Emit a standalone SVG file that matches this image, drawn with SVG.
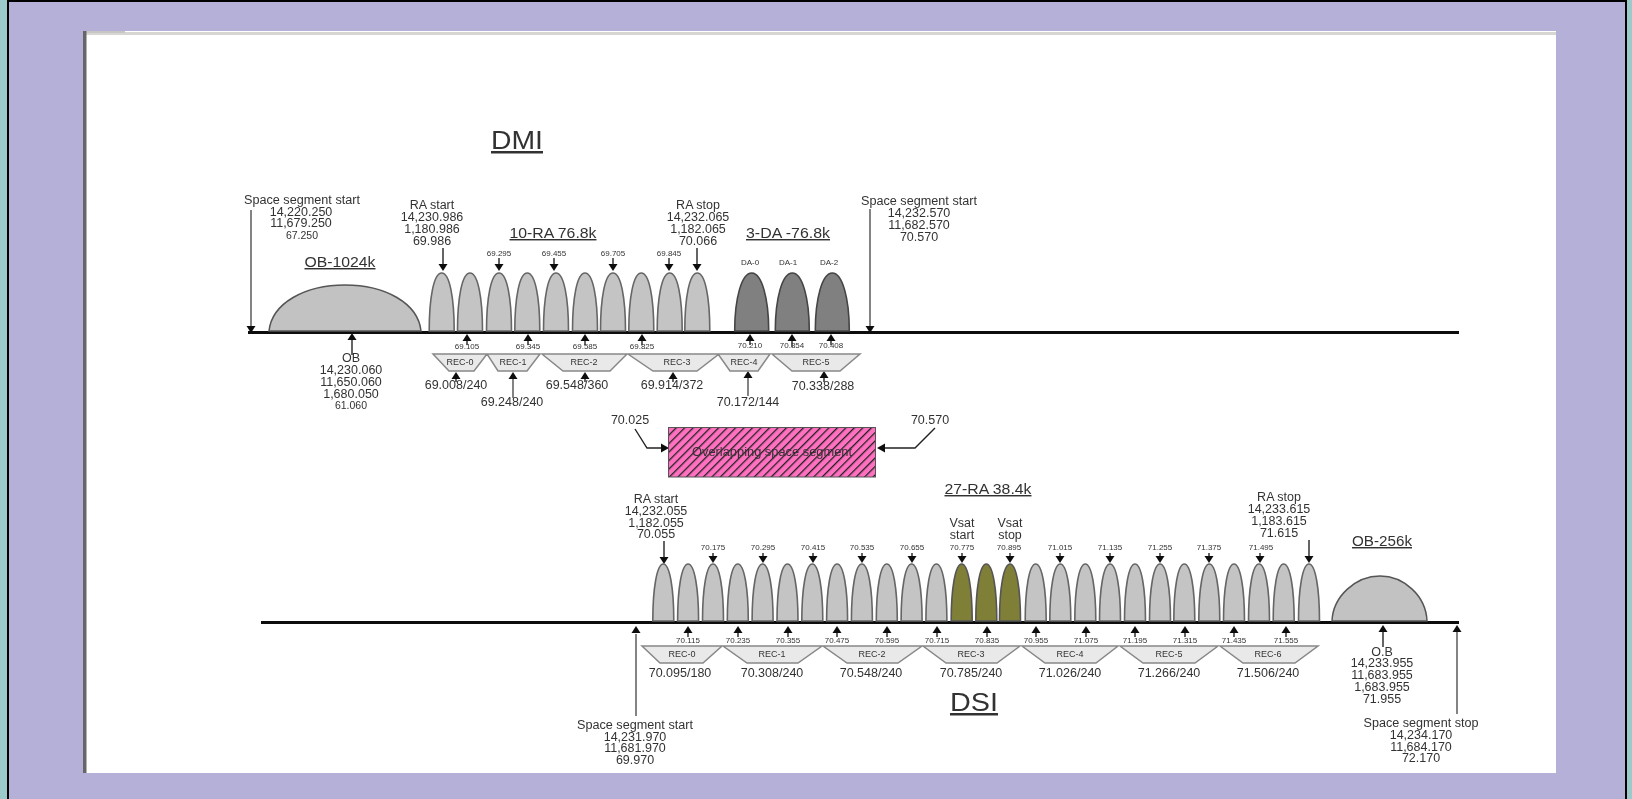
<svg xmlns="http://www.w3.org/2000/svg" width="1632" height="799" viewBox="0 0 1632 799">
<style>
text{font-family:"Liberation Sans",Arial,sans-serif;fill:#333;text-anchor:middle;font-size:12.5px}
.s{font-size:8px}
.r{font-size:9px}
.h{font-size:14.5px;text-decoration:underline}
.t{font-size:25px;text-decoration:underline}
.sh{stroke:#222;stroke-width:1.4;fill:none}
.g{stroke:#777;stroke-width:1.8;fill:none}
.ax{stroke:#111;stroke-width:3;fill:none}
.rec{fill:#e9e9e9;stroke:#888;stroke-width:1.5}
.dome{fill:#c2c2c2;stroke:#555;stroke-width:1.5}
.lobe{stroke:#666;stroke-width:1.6}
.ra{fill:#c4c4c4}.da{fill:#808080;stroke:#444}.v{fill:#7f7f38;stroke:#555}
</style>
<defs>
<filter id="soft" x="0" y="0" width="100%" height="100%"><feGaussianBlur stdDeviation="0.7"/></filter>
<pattern id="hatch" width="6" height="6" patternUnits="userSpaceOnUse" patternTransform="rotate(45)"><rect width="6" height="6" fill="#ff70c0"/><rect width="1.3" height="6" fill="#222"/></pattern>
<path id="ad" d="M-4.500,-7H4.500L0,0Z" fill="#111"/>
<path id="au" d="M-4.500,7H4.500L0,0Z" fill="#111"/>
<path id="l1" d="M-12.500,58C-12.500,25-8,0 0,0C8,0 12.500,25 12.500,58Z"/>
<path id="l2" d="M-10.500,57C-10.500,25-6.500,0 0,0C6.500,0 10.500,25 10.500,57Z"/>
<path id="l3" d="M-17,58C-17,25-10,0 0,0C10,0 17,25 17,58Z"/>
</defs>
<rect width="1632" height="799" fill="#b4b0d8"/>
<rect width="7" height="799" fill="#9ccaca"/>
<rect x="1627" width="5" height="799" fill="#9ccaca"/>
<rect x="7" width="2" height="799" fill="#000"/>
<rect x="1625" width="2" height="799" fill="#000"/>
<rect x="7" width="1620" height="2" fill="#000"/>
<g id="page">
<rect x="83" y="31" width="1473" height="742" fill="#fff"/>
<rect x="83" y="32" width="1473" height="3" fill="#d8d6d2"/>
<rect x="83" y="31" width="42" height="2" fill="#c8c6c4"/>
<rect x="83" y="31" width="3.500" height="742" fill="#666"/>
</g>
<g filter="url(#soft)">
<g id="connectors">
<path class="ax" d="M248,332.500H1459M261,622.500H1459"/>
<path class="g" d="M251,210V326M870,209V326M513,378V398M748,377V396M636,634V716M1457,632V714"/>
<path class="sh" d="M443,248V264M697,248V264M499,258V264M554,258V264M613,258V264M669,258V264M352,339V355M467,339V345M528,339V345M585,339V345M642,339V345M750,340V345M792,340V347M831,340V345M456,379V382M585,379V382M673,379V382M824,377V382"/>
<path class="sh" d="M635,429L647,448H662M935,428L915,448H884"/>
<path class="sh" d="M664,541V557M1309,540V556M713,553V557M763,553V557M813,553V557M862,553V557M912,553V557M962,553V557M1010,553V557M1060,553V557M1110,553V557M1160,553V557M1209,553V557M1260,553V557M688,632V637M738,632V637M788,632V637M837,632V637M887,632V637M937,632V637M987,632V637M1036,632V637M1086,632V637M1135,632V637M1185,632V637M1234,632V637M1286,632V637M1383,632V647"/>
<use href="#ad" x="251" y="333"/><use href="#ad" x="870" y="333"/>
<use href="#ad" x="443" y="271"/><use href="#ad" x="697" y="271"/><use href="#ad" x="499" y="271"/><use href="#ad" x="554" y="271"/><use href="#ad" x="613" y="271"/><use href="#ad" x="669" y="271"/>
<use href="#au" x="352" y="333"/><use href="#au" x="467" y="334"/><use href="#au" x="528" y="334"/><use href="#au" x="585" y="334"/><use href="#au" x="642" y="334"/><use href="#au" x="750" y="334"/><use href="#au" x="792" y="334"/><use href="#au" x="831" y="334"/>
<use href="#au" x="456" y="372"/><use href="#au" x="513" y="372"/><use href="#au" x="585" y="372"/><use href="#au" x="673" y="372"/><use href="#au" x="748" y="371"/><use href="#au" x="824" y="371"/>
<path d="M669,448L661,443.500V452.500ZM877,448L885,443.500V452.500Z" fill="#111"/>
<use href="#ad" x="664" y="564"/><use href="#ad" x="1309" y="563"/><use href="#ad" x="713" y="563"/><use href="#ad" x="763" y="563"/><use href="#ad" x="813" y="563"/><use href="#ad" x="862" y="563"/><use href="#ad" x="912" y="563"/><use href="#ad" x="962" y="563"/><use href="#ad" x="1010" y="563"/><use href="#ad" x="1060" y="563"/><use href="#ad" x="1110" y="563"/><use href="#ad" x="1160" y="563"/><use href="#ad" x="1209" y="563"/><use href="#ad" x="1260" y="563"/>
<use href="#au" x="636" y="626"/><use href="#au" x="1457" y="625"/><use href="#au" x="1383" y="625"/>
<use href="#au" x="688" y="626"/><use href="#au" x="738" y="626"/><use href="#au" x="788" y="626"/><use href="#au" x="837" y="626"/><use href="#au" x="887" y="626"/><use href="#au" x="937" y="626"/><use href="#au" x="987" y="626"/><use href="#au" x="1036" y="626"/><use href="#au" x="1086" y="626"/><use href="#au" x="1135" y="626"/><use href="#au" x="1185" y="626"/><use href="#au" x="1234" y="626"/><use href="#au" x="1286" y="626"/>
</g>
<g id="dmi-title"><text class="t" x="517" y="149" textLength="52" lengthAdjust="spacingAndGlyphs">DMI</text></g>
<g id="dmi-ob"><path class="dome" d="M269,331C272,303 305,285 345,285C385,285 418,303 421,331Z"/><text class="h" x="340" y="267" textLength="71" lengthAdjust="spacingAndGlyphs">OB-1024k</text></g>
<g id="dmi-ra" class="lobe ra">
<use href="#l1" x="441.700" y="273"/><use href="#l1" x="470" y="273"/><use href="#l1" x="499" y="273"/><use href="#l1" x="527.300" y="273"/><use href="#l1" x="556" y="273"/><use href="#l1" x="585" y="273"/><use href="#l1" x="613" y="273"/><use href="#l1" x="641.300" y="273"/><use href="#l1" x="669.700" y="273"/><use href="#l1" x="697.300" y="273"/>
</g>
<g id="dmi-da" class="lobe da"><use href="#l3" x="751.700" y="273"/><use href="#l3" x="792.300" y="273"/><use href="#l3" x="832.300" y="273"/></g>
<g id="dmi-recs">
<path class="rec" d="M433,354H487L474,371H449ZM487,354H540L527,371H498ZM542,354H627L610,371H563ZM628,354H719L697,371H653ZM718,354H770L758,371H730ZM772,354H860L840,371H792Z"/>
<text class="r" x="460" y="365">REC-0</text><text class="r" x="513" y="365">REC-1</text><text class="r" x="584" y="365">REC-2</text><text class="r" x="677" y="365">REC-3</text><text class="r" x="744" y="365">REC-4</text><text class="r" x="816" y="365">REC-5</text>
</g>
<g id="dmi-labels">
<text x="302" y="204" textLength="116" lengthAdjust="spacingAndGlyphs">Space segment start</text><text x="301" y="216">14,220.250</text><text x="301" y="227">11,679.250</text><text x="302" y="239" style="font-size:10.500px">67.250</text>
<text x="432" y="209">RA start</text><text x="432" y="221">14,230.986</text><text x="432" y="233">1,180.986</text><text x="432" y="245">69.986</text>
<text class="h" x="553" y="238" textLength="87" lengthAdjust="spacingAndGlyphs">10-RA 76.8k</text>
<text x="698" y="209">RA stop</text><text x="698" y="221">14,232.065</text><text x="698" y="233">1,182.065</text><text x="698" y="245">70.066</text>
<text class="h" x="788" y="238" textLength="84" lengthAdjust="spacingAndGlyphs">3-DA -76.8k</text>
<text x="919" y="205" textLength="116" lengthAdjust="spacingAndGlyphs">Space segment start</text><text x="919" y="217">14,232.570</text><text x="919" y="229">11,682.570</text><text x="919" y="241">70.570</text>
<text class="s" x="499" y="256">69.295</text><text class="s" x="554" y="256">69.455</text><text class="s" x="613" y="256">69.705</text><text class="s" x="669" y="256">69.845</text>
<text class="s" x="750" y="265">DA-0</text><text class="s" x="788" y="265">DA-1</text><text class="s" x="829" y="265">DA-2</text>
<text class="s" x="467" y="349">69.105</text><text class="s" x="528" y="349">69.345</text><text class="s" x="585" y="349">69.585</text><text class="s" x="642" y="349">69.825</text><text class="s" x="750" y="348">70.210</text><text class="s" x="792" y="348">70.354</text><text class="s" x="831" y="348">70.408</text>
<text x="351" y="362">OB</text><text x="351" y="374">14,230.060</text><text x="351" y="386">11,650.060</text><text x="351" y="398">1,680.050</text><text x="351" y="409" style="font-size:10.500px">61.060</text>
<text x="456" y="389">69.008/240</text><text x="512" y="406">69.248/240</text><text x="577" y="389">69.548/360</text><text x="672" y="389">69.914/372</text><text x="748" y="406">70.172/144</text><text x="823" y="390">70.338/288</text>
</g>
<g id="overlap">
<rect x="668.500" y="427.500" width="207" height="49.500" fill="url(#hatch)" stroke="#555"/>
<text x="772" y="456" textLength="160" lengthAdjust="spacingAndGlyphs">Overlapping space segment</text>
<text x="630" y="424">70.025</text><text x="930" y="424">70.570</text>
</g>
<g id="dsi-ra" class="lobe ra">
<use href="#l2" x="663.300" y="564"/><use href="#l2" x="688.100" y="564"/><use href="#l2" x="713" y="564"/><use href="#l2" x="737.800" y="564"/><use href="#l2" x="762.600" y="564"/><use href="#l2" x="787.500" y="564"/><use href="#l2" x="812.300" y="564"/><use href="#l2" x="837.100" y="564"/><use href="#l2" x="861.900" y="564"/><use href="#l2" x="886.800" y="564"/><use href="#l2" x="911.600" y="564"/><use href="#l2" x="936.400" y="564"/>
<use href="#l2" x="1035.700" y="564"/><use href="#l2" x="1060.300" y="564"/><use href="#l2" x="1085.300" y="564"/><use href="#l2" x="1110" y="564"/><use href="#l2" x="1135" y="564"/><use href="#l2" x="1160" y="564"/><use href="#l2" x="1184.300" y="564"/><use href="#l2" x="1209.300" y="564"/><use href="#l2" x="1234" y="564"/><use href="#l2" x="1259" y="564"/><use href="#l2" x="1283.700" y="564"/><use href="#l2" x="1309" y="564"/>
</g>
<g id="dsi-vsat" class="lobe v"><use href="#l2" x="961.700" y="564"/><use href="#l2" x="986.300" y="564"/><use href="#l2" x="1010" y="564"/></g>
<g id="dsi-ob"><path class="dome" d="M1332,621C1333,596 1356,576 1380,576C1404,576 1426,596 1427,621Z"/><text class="h" x="1382" y="546" textLength="60" lengthAdjust="spacingAndGlyphs">OB-256k</text></g>
<g id="dsi-recs">
<path class="rec" d="M642,646H722L703,663H660ZM723,646H822L798,663H747ZM823,646H922L898,663H847ZM923,646H1020L997,663H946ZM1022,646H1118L1096,663H1045ZM1120,646H1218L1195,663H1143ZM1220,646H1318L1295,663H1243Z"/>
<text class="r" x="682" y="657">REC-0</text><text class="r" x="772" y="657">REC-1</text><text class="r" x="872" y="657">REC-2</text><text class="r" x="971" y="657">REC-3</text><text class="r" x="1070" y="657">REC-4</text><text class="r" x="1169" y="657">REC-5</text><text class="r" x="1268" y="657">REC-6</text>
</g>
<g id="dsi-labels">
<text x="656" y="503">RA start</text><text x="656" y="515">14,232.055</text><text x="656" y="527">1,182.055</text><text x="656" y="538">70.055</text>
<text class="h" x="988" y="494" textLength="87" lengthAdjust="spacingAndGlyphs">27-RA 38.4k</text>
<text x="962" y="527">Vsat</text><text x="962" y="539">start</text><text x="1010" y="527">Vsat</text><text x="1010" y="539">stop</text>
<text x="1279" y="501">RA stop</text><text x="1279" y="513">14,233.615</text><text x="1279" y="525">1,183.615</text><text x="1279" y="537">71.615</text>
<text class="s" x="713" y="550">70.175</text><text class="s" x="763" y="550">70.295</text><text class="s" x="813" y="550">70.415</text><text class="s" x="862" y="550">70.535</text><text class="s" x="912" y="550">70.655</text><text class="s" x="962" y="550">70.775</text><text class="s" x="1009" y="550">70.895</text><text class="s" x="1060" y="550">71.015</text><text class="s" x="1110" y="550">71.135</text><text class="s" x="1160" y="550">71.255</text><text class="s" x="1209" y="550">71.375</text><text class="s" x="1261" y="550">71.495</text>
<text class="s" x="688" y="643">70.115</text><text class="s" x="738" y="643">70.235</text><text class="s" x="788" y="643">70.355</text><text class="s" x="837" y="643">70.475</text><text class="s" x="887" y="643">70.595</text><text class="s" x="937" y="643">70.715</text><text class="s" x="987" y="643">70.835</text><text class="s" x="1036" y="643">70.955</text><text class="s" x="1086" y="643">71.075</text><text class="s" x="1135" y="643">71.195</text><text class="s" x="1185" y="643">71.315</text><text class="s" x="1234" y="643">71.435</text><text class="s" x="1286" y="643">71.555</text>
<text x="680" y="677">70.095/180</text><text x="772" y="677">70.308/240</text><text x="871" y="677">70.548/240</text><text x="971" y="677">70.785/240</text><text x="1070" y="677">71.026/240</text><text x="1169" y="677">71.266/240</text><text x="1268" y="677">71.506/240</text>
<text class="t" x="974" y="711" textLength="48" lengthAdjust="spacingAndGlyphs">DSI</text>
<text x="1382" y="656">O.B</text><text x="1382" y="667">14,233.955</text><text x="1382" y="679">11,683.955</text><text x="1382" y="691">1,683.955</text><text x="1382" y="703">71.955</text>
<text x="635" y="729" textLength="116" lengthAdjust="spacingAndGlyphs">Space segment start</text><text x="635" y="741">14,231.970</text><text x="635" y="752">11,681.970</text><text x="635" y="764">69.970</text>
<text x="1421" y="727" textLength="115" lengthAdjust="spacingAndGlyphs">Space segment stop</text><text x="1421" y="739">14,234.170</text><text x="1421" y="751">11,684.170</text><text x="1421" y="762">72.170</text>
</g>
</g>
</svg>
